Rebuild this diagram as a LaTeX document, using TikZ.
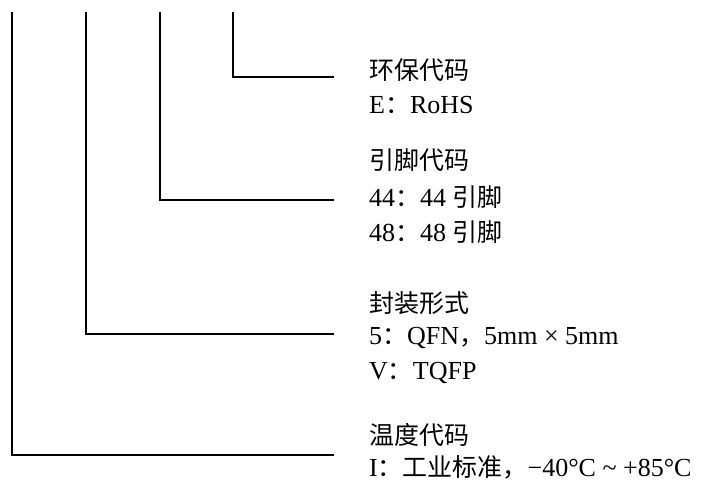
\documentclass[tikz,border=0pt]{standalone}
\usepackage{fontspec}
\setmainfont{Liberation Serif}
\newfontfamily\cjk{Noto Sans CJK SC}[Scale=0.96]
\begin{document}
\begin{tikzpicture}[x=1pt,y=-1pt,
  conn/.style={line width=1.3pt},
  lbl/.style={anchor=west,inner sep=0pt,font=\fontsize{26}{30}\selectfont}]
\useasboundingbox (0,0) rectangle (704,483);
% top ends of the vertical lines
\coordinate (t1) at (12,12);
\coordinate (t2) at (86,12);
\coordinate (t3) at (160,12);
\coordinate (t4) at (233,12);
% right ends of the horizontal lines
\coordinate (e4) at (334,77);
\coordinate (e3) at (334,200);
\coordinate (e2) at (334,334);
\coordinate (e1) at (334,455);
\draw[conn] (t4) |- (e4);
\draw[conn] (t3) |- (e3);
\draw[conn] (t2) |- (e2);
\draw[conn] (t1) |- (e1);
% labels
\node[lbl] (a1) at (369,70) {\cjk 环保代码};
\node[lbl] (a2) at (369,105) {E{\cjk ：}RoHS};
\node[lbl] (b1) at (369,160) {\cjk 引脚代码};
\node[lbl] (b2) at (369,197) {44{\cjk ：}44 {\cjk 引脚}};
\node[lbl] (b3) at (369,232) {48{\cjk ：}48 {\cjk 引脚}};
\node[lbl] (c1) at (369,303) {\cjk 封装形式};
\node[lbl] (c2) at (369,338) {5{\cjk ：}QFN{\cjk ，}5mm × 5mm};
\node[lbl] (c3) at (369,373) {V{\cjk ：}TQFP};
\node[lbl] (d1) at (369,435) {\cjk 温度代码};
\node[lbl] (d2) at (369,467) {I{\cjk ：工业标准，}−40°C \textasciitilde{} +85°C};
\end{tikzpicture}
\end{document}
